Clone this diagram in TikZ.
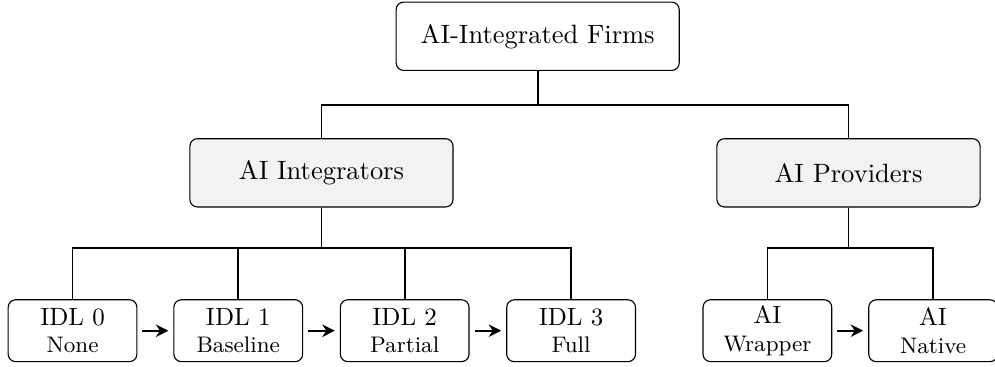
\documentclass[tikz,border=0pt]{standalone}
\usetikzlibrary{arrows.meta}

\begin{document}
\begin{tikzpicture}[every node/.style={draw, rounded corners=3pt, line width=0.45pt, align=center},
		group/.style={fill=black!5, minimum width=3.7cm, minimum height=0.96cm, font=\fontsize{10.6}{13}\selectfont},
		level/.style={minimum width=1.81cm, minimum height=0.87cm, inner sep=2pt},
		link/.style={line width=0.7pt},
		next/.style={thick, -{Stealth[length=5pt, width=5pt]}, shorten <=2pt, shorten >=2pt}]
	\useasboundingbox (0,0) rectangle (13.99,5.16);
	% \draw[help lines] (0,0) grid (14,5);

	\node (firms) at (7.56,4.65) [minimum width=3.98cm, minimum height=0.96cm, font=\fontsize{10.6}{13}\selectfont] {AI-Integrated Firms};
	\node (integrators) at (4.52,2.73) [group] {AI Integrators};
	\node (providers) at (11.93,2.73) [group] {AI Providers};

	\node (idl0) at (1.02,0.51) [level] {IDL 0\\[-1pt]{\small None}};
	\node (idl1) at (3.35,0.51) [level] {IDL 1\\[-1pt]{\small Baseline}};
	\node (idl2) at (5.69,0.51) [level] {IDL 2\\[-1pt]{\small Partial}};
	\node (idl3) at (8.03,0.51) [level] {IDL 3\\[-1pt]{\small Full}};

	\node (wrapper) at (10.79,0.51) [level] {AI\\[-1pt]{\small Wrapper}};
	\node (native) at (13.12,0.51) [level] {AI\\[-1pt]{\small Native}};

	\coordinate (top bus) at (7.56,3.68);
	\coordinate (integrator bus) at (4.52,1.67);
	\coordinate (provider bus) at (11.93,1.67);

	\draw[link] (firms) -- (top bus);
	\draw[link] (integrators.north) |- (top bus) -| (providers.north);

	\draw[link] (integrators) -- (integrator bus);
	\draw[link] (idl0.north) |- (integrator bus) -| (idl3.north);
	\draw[link] (idl1.north) -- (idl1.north |- integrator bus);
	\draw[link] (idl2.north) -- (idl2.north |- integrator bus);

	\draw[link] (providers) -- (provider bus);
	\draw[link] (wrapper.north) |- (provider bus) -| (native.north);

	\draw[next] (idl0) -- (idl1);
	\draw[next] (idl1) -- (idl2);
	\draw[next] (idl2) -- (idl3);
	\draw[next] (wrapper) -- (native);
\end{tikzpicture}
\end{document}
